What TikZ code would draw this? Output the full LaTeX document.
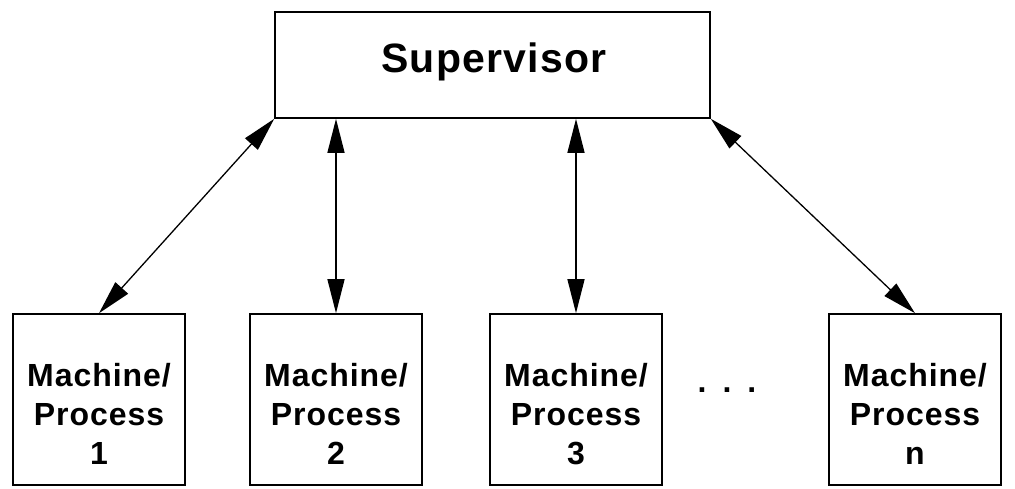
\documentclass[tikz,border=0pt]{standalone}
\usepackage{fontspec}
\setmainfont[LetterSpace=3]{Liberation Sans}
\usetikzlibrary{arrows.meta}

\begin{document}
\begin{tikzpicture}[x=1pt,y=-1pt,
    box/.style={draw,line width=1.6pt,inner sep=0pt},
    mbox/.style={box,minimum width=172pt,minimum height=171pt},
    mlabel/.style={align=center,font=\fontsize{32}{39}\selectfont\bfseries},
    link/.style={line width=1.3pt,
	{Triangle[length=34pt,width=17pt]}-{Triangle[length=34pt,width=17pt]}}]
\useasboundingbox (0,0) rectangle (1015,488);

\node [box,minimum width=435pt,minimum height=106pt] (super) at (492.5, 65) {};
\node [font=\fontsize{41}{48}\selectfont\bfseries,anchor=base]
    (supertext) at (494, 72) {Supervisor};

\node [mbox] (mach1) at ( 99, 399.5) {};
\node [mbox] (mach2) at (336, 399.5) {};
\node [mbox] (mach3) at (576, 399.5) {};
\node [mbox] (machn) at (915, 399.5) {};

\node [mlabel] (text1) at ( 99, 414) {Machine/\\ Process\\ 1};
\node [mlabel] (text2) at (336, 414) {Machine/\\ Process\\ 2};
\node [mlabel] (text3) at (576, 414) {Machine/\\ Process\\ 3};
\node [mlabel] (textn) at (915, 414) {Machine/\\ Process\\ n};

\node [mlabel] (dots) at (727, 390) {.\enspace.\enspace.};

\draw [link] (super.south west) -- (mach1.north);
\draw [link] (mach2.north |- super.south) -- (mach2.north);
\draw [link] (mach3.north |- super.south) -- (mach3.north);
\draw [link] (super.south east) -- (machn.north);
\end{tikzpicture}
\end{document}
